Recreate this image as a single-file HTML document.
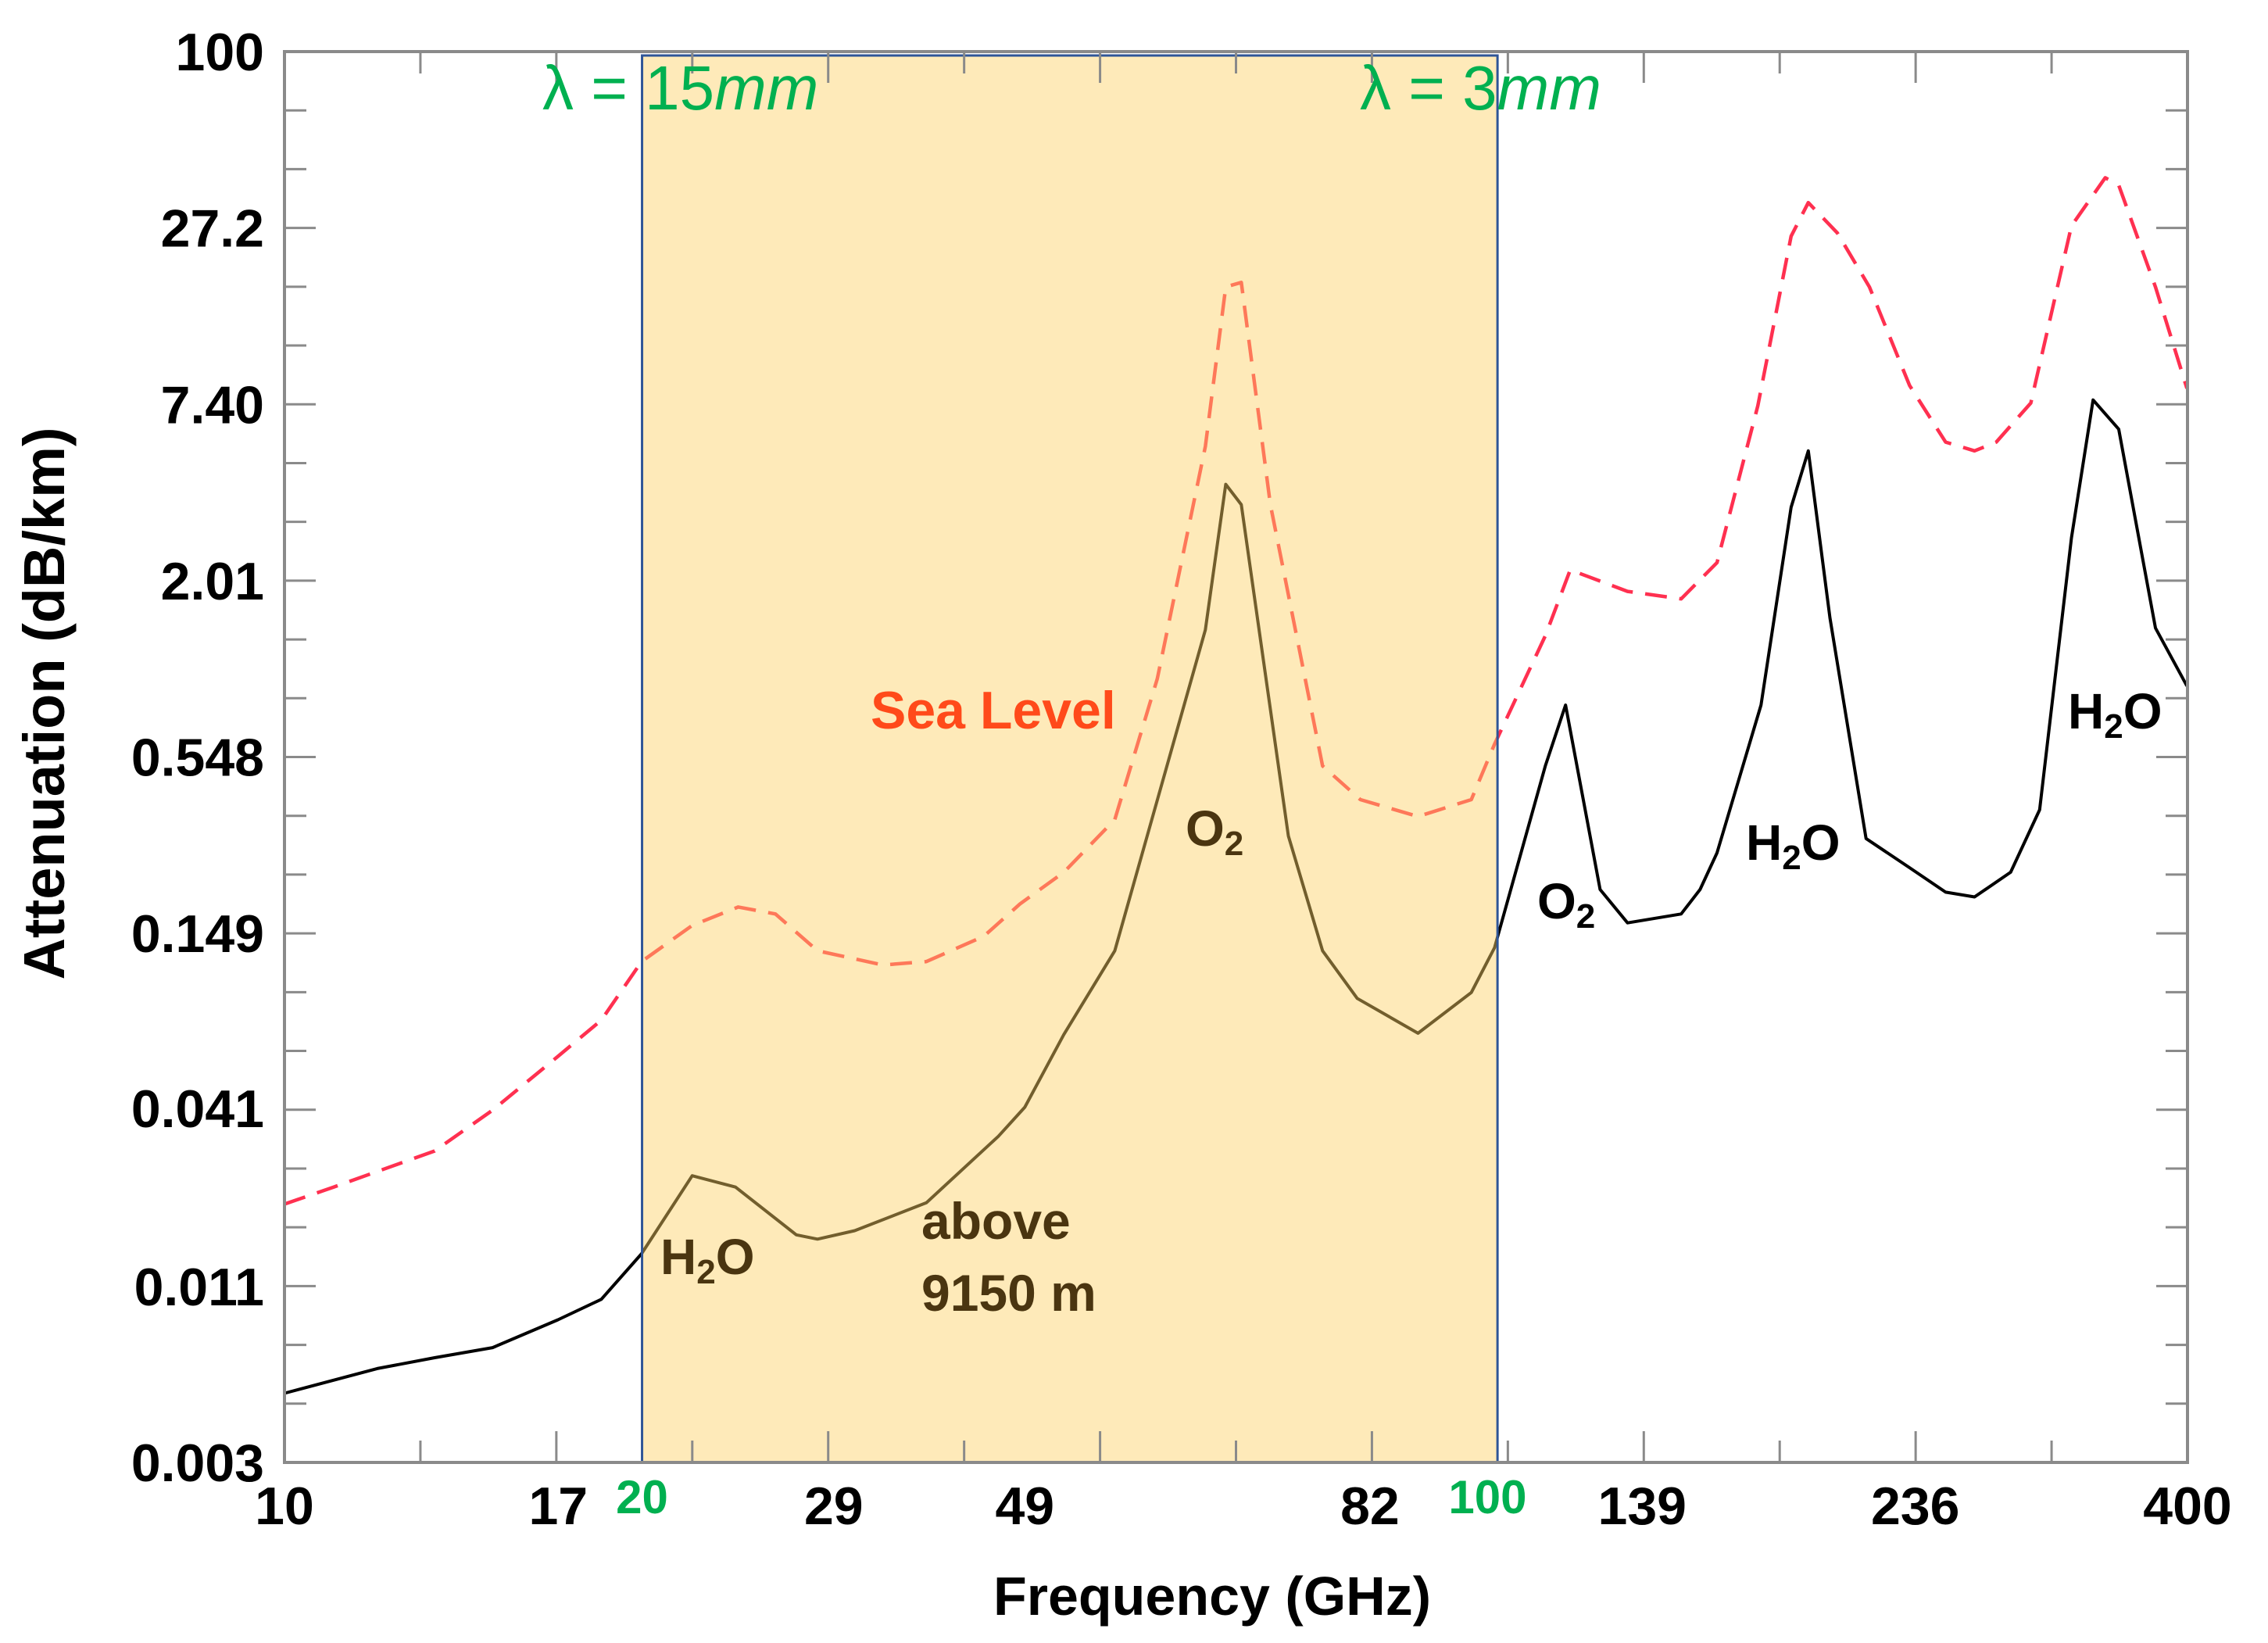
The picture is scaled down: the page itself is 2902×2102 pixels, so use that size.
<!DOCTYPE html>
<html><head><meta charset="utf-8"><style>
html,body{margin:0;padding:0;background:#fff;}
svg{display:block;}
text{font-family:"Liberation Sans",sans-serif;}
</style></head><body>
<svg id="chart" width="2902" height="2102" viewBox="0 0 2902 2102" xmlns="http://www.w3.org/2000/svg">
<g id="lines"></g>
<g id="box"></g>
<g id="axes"></g>
<g id="labels"></g>
</svg>
<script>
const blackFreq=[10,11.97,13.38,14.97,16.99,18.48,19.98,22.04,23.97,26.97,28.1,30.2,34.7,39.9,42.0,45.3,50.0,59.6,62.0,63.9,70.0,74.8,80.0,90.0,99.8,104.4,115.2,119.8,128.1,135.1,149.9,155.5,160.7,175.0,185.5,191.8,200.0,214.5,233.4,250.3,264.7,283.9,300.3,319.4,333.1,350.1,375.9,399.6];
const blackVal=[0.0050,0.0060,0.0065,0.0070,0.0086,0.0100,0.0140,0.0249,0.0229,0.0161,0.0156,0.0166,0.0204,0.0333,0.0413,0.0706,0.131,1.40,4.10,3.53,0.306,0.131,0.0922,0.0713,0.0963,0.134,0.513,0.804,0.206,0.161,0.172,0.206,0.270,0.804,3.46,5.25,1.53,0.300,0.242,0.202,0.195,0.234,0.371,2.76,7.64,6.16,1.42,0.925];
const redFreq=[10,11.0,13.38,14.97,16.99,18.48,19.98,22.04,24.1,25.9,28.1,31.9,34.7,38.8,41.6,45.3,50.0,54.3,59.6,62.0,63.9,67.6,74.8,80.5,90.0,99.8,104.4,115.2,120.9,135.1,149.9,160.7,173.9,185.5,191.8,202.9,215.9,233.4,250.3,264.7,276.1,295.2,319.4,341.0,350.1,375.9,399.6];
const redVal=[0.0202,0.0229,0.0299,0.0404,0.0601,0.0785,0.121,0.158,0.181,0.172,0.131,0.118,0.121,0.146,0.185,0.234,0.345,0.976,5.42,17.6,18.2,3.53,0.513,0.400,0.353,0.400,0.602,1.34,2.18,1.86,1.76,2.30,7.32,25.6,32.8,26.2,17.6,8.50,5.60,5.25,5.60,7.47,27.6,39.4,37.3,17.6,8.32];
const yTickVals=[100,27.2,7.40,2.01,0.548,0.149,0.041,0.011,0.003];
const yTickLabels=["100","27.2","7.40","2.01","0.548","0.149","0.041","0.011","0.003"];
const xTickVals=[10,17,29,42,82,139,236,400];
const xTickLabels=["10","17","29","49","82","139","236","400"];
const xGreenVals=[20,103];
const xGreenLabels=["20","100"];
const bandRange=[20,105];

const L=364,R=2799,T=66,B=1871;
const xs=f=>L+Math.log(f/10)/Math.log(40)*(R-L);
const ys=v=>T+Math.log(100/v)/Math.log(100/0.003)*(B-T);
const NS="http://www.w3.org/2000/svg";
function mk(tag,attrs,parent,text){const e=document.createElementNS(NS,tag);for(const k in attrs)e.setAttribute(k,attrs[k]);if(text!==undefined)e.textContent=text;parent.appendChild(e);return e;}
const gL=document.getElementById('lines'),gB=document.getElementById('box'),gA=document.getElementById('axes'),gT=document.getElementById('labels');

function pathOf(fr,vals){return fr.map((f,i)=>(i?'L':'M')+xs(f).toFixed(1)+','+ys(vals[i]).toFixed(1)).join(' ');}
const red=mk('path',{d:pathOf(redFreq,redVal),fill:'none',stroke:'#ff3050','stroke-width':4.5,'stroke-dasharray':'28,16','stroke-linejoin':'round'},gL);


const blk=mk('path',{d:pathOf(blackFreq,blackVal),fill:'none',stroke:'#000','stroke-width':4,'stroke-linejoin':'round'},gL);



const bx1=xs(bandRange[0]),bx2=xs(bandRange[1]);
const band=mk('rect',{x:bx1,y:T+5,width:bx2-bx1,height:B-T-5,fill:'#fcd163','fill-opacity':0.45,stroke:'#2f5597','stroke-width':3},gB);



const fr=mk('rect',{x:L,y:T,width:R-L,height:B-T,fill:'none',stroke:'#8a8a8a','stroke-width':4},gA);


for(let i=0;i<=24;i++){
  const y=T+i*(B-T)/24, len=(i%3===0)?40:28;
  mk('line',{x1:L,x2:L+len,y1:y,y2:y,stroke:'#8a8a8a','stroke-width':3},gA);
  mk('line',{x1:R,x2:R-len,y1:y,y2:y,stroke:'#8a8a8a','stroke-width':3},gA);
}
yTickVals.forEach((v,i)=>{
  const t=mk('text',{x:338,y:ys(v)+24,'text-anchor':'end','font-size':68,'font-weight':'bold',fill:'#000'},gT,yTickLabels[i]);
  
  
});
for(let i=1;i<14;i++){
  const x=L+i*(R-L)/14, len=(i%2===0)?40:28;
  mk('line',{x1:x,x2:x,y1:B,y2:B-len,stroke:'#8a8a8a','stroke-width':3},gA);
  mk('line',{x1:x,x2:x,y1:T,y2:T+len,stroke:'#8a8a8a','stroke-width':3},gA);
}
xTickVals.forEach((v,i)=>{
  const t=mk('text',{x:xs(v),y:1950,'text-anchor':'middle','font-size':68,'font-weight':'bold',fill:'#000'},gT,xTickLabels[i]);
  
  
});
xGreenVals.forEach((v,i)=>{
  const t=mk('text',{x:xs(v),y:1936,'text-anchor':'middle','font-size':60,'font-weight':'bold',fill:'#00b050'},gT,xGreenLabels[i]);
  
  
});
</script>
<script>
(function(){
const NS="http://www.w3.org/2000/svg",g=document.getElementById('labels');
function t(x,y,size,color,name,html,extra){const e=document.createElementNS(NS,'text');e.setAttribute('x',x);e.setAttribute('y',y);e.setAttribute('font-size',size);e.setAttribute('fill',color);e.setAttribute('font-weight','bold');if(extra)for(const k in extra)e.setAttribute(k,extra[k]);e.innerHTML=html;


g.appendChild(e);return e;}
t(1551,2066,70,'#000','x-axis-title','Frequency (GHz)',{'text-anchor':'middle'});
t(82,900,74,'#000','y-axis-title','Attenuation (dB/km)',{'text-anchor':'middle',transform:'rotate(-90 82 900)'});
t(1114,932,68,'#ff4a1a','sea-level-label','Sea Level');
t(1517,1082,64,'#4a3510','o2-label-1','O<tspan font-size="44" dy="12">2</tspan>');
t(845,1630,64,'#4a3510','h2o-label-1','H<tspan font-size="44" dy="12">2</tspan><tspan dy="-12">O</tspan>');
t(1179,1585,66,'#4a3510','above-label','above');
t(1179,1677,66,'#4a3510','altitude-label','9150 m');
t(1967,1175,64,'#000','o2-label-2','O<tspan font-size="44" dy="12">2</tspan>');
t(2234,1100,64,'#000','h2o-label-2','H<tspan font-size="44" dy="12">2</tspan><tspan dy="-12">O</tspan>');
t(2646,932,64,'#000','h2o-label-3','H<tspan font-size="44" dy="12">2</tspan><tspan dy="-12">O</tspan>');
t(694,140,80,'#00b050','wavelength-15mm-label','λ = 15<tspan font-style="italic">mm</tspan>',{'font-family':'Liberation Serif, serif','font-weight':'normal'});
t(1740,140,80,'#00b050','wavelength-3mm-label','λ = 3<tspan font-style="italic">mm</tspan>',{'font-family':'Liberation Serif, serif','font-weight':'normal'});
})();
</script>
</body></html>
